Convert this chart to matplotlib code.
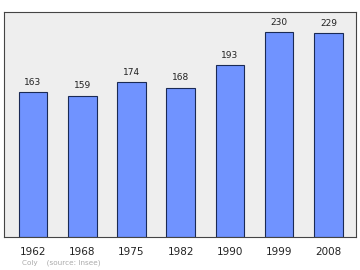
import matplotlib
matplotlib.use("Agg")
import matplotlib.pyplot as plt
import numpy as np

years = ["1962", "1968", "1975", "1982", "1990", "1999", "2008"]
population = [163, 159, 174, 168, 193, 230, 229]

fig = plt.figure(figsize=(3.6, 2.7), dpi=100)
ax = fig.add_axes([4 / 360, 1 - 237 / 270, 352 / 360, 225 / 270])
ax.set_facecolor("#eeeeee")

x = np.arange(len(years))
ax.bar(x, population, width=0.58, color="#7093ff", edgecolor="#1a2a55", linewidth=0.8)

for xi, v in zip(x, population):
    ax.text(xi, v + 6, str(v), ha="center", va="bottom", fontsize=6.5, color="#222222")

ax.set_xlim(-0.59, 6.56)
ax.set_ylim(0, 253)
ax.set_yticks([])
ax.set_xticks(x)
ax.set_xticklabels(years, fontsize=7.5, color="#222222")
ax.tick_params(axis="x", length=0, pad=7)
for s in ax.spines.values():
    s.set_color("#444444")
    s.set_linewidth(0.8)

fig.text(22 / 360, 1 - 263 / 270, "Coly    (source: Insee)", fontsize=5.2, color="#aaaaaa", va="center")

fig.savefig("out.png", dpi=100)
